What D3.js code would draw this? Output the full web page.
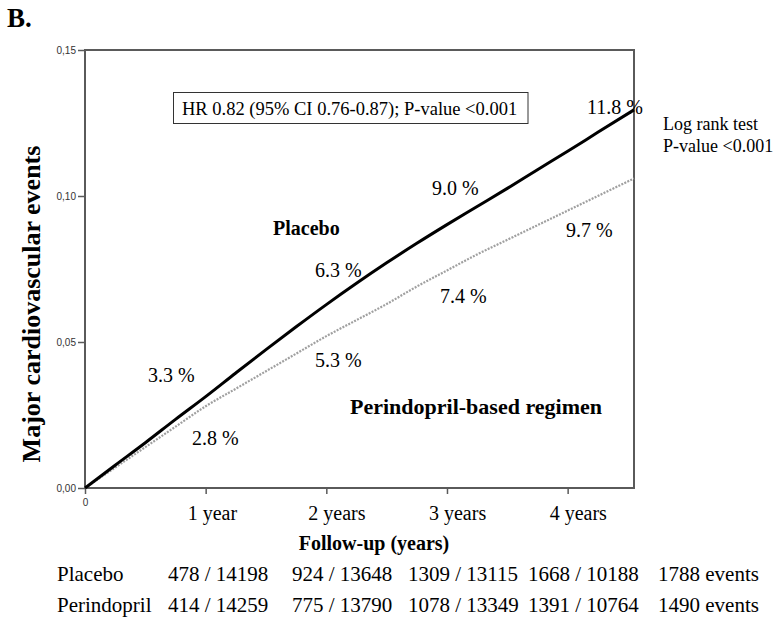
<!DOCTYPE html>
<html>
<head>
<meta charset="utf-8">
<script src="https://cdn.jsdelivr.net/npm/d3@7"></script>
<style>
  html, body { margin: 0; padding: 0; background: #fff; }
  svg { display: block; }
</style>
</head>
<body>
<svg id="chart" width="777" height="632"></svg>
<script>
// Follow-up time points (years) and cumulative event rates
const years       = [0, 0.25, 0.5, 0.75, 1, 1.25, 1.5, 1.75, 2, 2.25, 2.5, 2.75, 3, 3.25, 3.5, 3.75, 4, 4.25, 4.55];
const placebo     = [0, 0.0078, 0.0155, 0.0235, 0.0313, 0.0394, 0.0474, 0.0552, 0.0628, 0.0701, 0.0771, 0.0838, 0.0902, 0.0964, 0.1026, 0.109, 0.1153, 0.1218, 0.1295];
const perindopril = [0, 0.007, 0.014, 0.021, 0.028, 0.034, 0.040, 0.046, 0.052, 0.0575, 0.063, 0.069, 0.0745, 0.080, 0.085, 0.090, 0.095, 0.100, 0.106];

// Axis ticks
const yTicks = [0, 0.05, 0.10, 0.15];
const xTicks = [0, 1, 2, 3, 4];
const yearLabels = ["1 year", "2 years", "3 years", "4 years"];

// Yearly rates printed beside the curves
const placeboPct     = ["3.3 %", "6.3 %", "9.0 %", "11.8 %"];
const perindoprilPct = ["2.8 %", "5.3 %", "7.4 %", "9.7 %"];

// Events / patients at risk table
const tableGroups = ["Placebo", "Perindopril"];
const placeboRow     = ["478 / 14198", "924 / 13648", "1309 / 13115", "1668 / 10188", "1788 events"];
const perindoprilRow = ["414 / 14259", "775 / 13790", "1078 / 13349", "1391 / 10764", "1490 events"];

const svg = d3.select("#chart");
const serif = "'Liberation Serif', 'Times New Roman', serif";
const sans = "'Liberation Sans', Arial, sans-serif";
const frameColor = "#5a5a5a";

const x = d3.scaleLinear().domain([0, 4.55]).range([85, 634]);
const y = d3.scaleLinear().domain([0, 0.15]).range([488, 50]);

// Panel letter
svg.append("text").attr("x", 7).attr("y", 27)
  .attr("font-family", serif).attr("font-weight", "bold").attr("font-size", 27)
  .text("B.");

// Plot frame
svg.append("rect")
  .attr("x", x(0)).attr("y", y(0.15))
  .attr("width", x(4.55) - x(0)).attr("height", y(0) - y(0.15))
  .attr("fill", "none").attr("stroke", frameColor).attr("stroke-width", 2);

// Y axis
const yAxis = svg.append("g").attr("transform", `translate(${x(0)},0)`)
  .call(d3.axisLeft(y).tickValues(yTicks).tickSize(7).tickPadding(2)
    .tickFormat(d => d3.format(".2f")(d).replace(".", ",")));
yAxis.select(".domain").remove();
yAxis.selectAll("line").attr("stroke", frameColor).attr("stroke-width", 1.5);
yAxis.selectAll("text").attr("font-family", sans).attr("font-size", 10).attr("fill", "#333");

// X axis
const xAxis = svg.append("g").attr("transform", `translate(0,${y(0)})`)
  .call(d3.axisBottom(x).tickValues(xTicks).tickSize(6).tickPadding(5)
    .tickFormat(d => d === 0 ? "0" : ""));
xAxis.select(".domain").remove();
xAxis.selectAll("line").attr("stroke", frameColor).attr("stroke-width", 1.5);
xAxis.selectAll("text").attr("font-family", sans).attr("font-size", 10).attr("fill", "#333");

// Year labels under the ticks
svg.append("g").selectAll("text").data(yearLabels).join("text")
  .attr("x", (d, i) => x(xTicks[i + 1]) - 18).attr("y", 520)
  .attr("font-family", serif).attr("font-size", 20)
  .text(d => d);

// Axis titles
svg.append("text")
  .attr("transform", "translate(31,304) rotate(-90)")
  .attr("text-anchor", "middle").attr("dominant-baseline", "central")
  .attr("font-family", serif).attr("font-weight", "bold").attr("font-size", 26)
  .text("Major cardiovascular events");
svg.append("text").attr("x", 374).attr("y", 550)
  .attr("text-anchor", "middle")
  .attr("font-family", serif).attr("font-weight", "bold").attr("font-size", 20)
  .text("Follow-up (years)");

// Curves
const line = d3.line().x(d => x(d[0])).y(d => y(d[1])).curve(d3.curveMonotoneX);
svg.append("path")
  .datum(years.map((t, i) => [t, perindopril[i]]))
  .attr("d", line).attr("fill", "none")
  .attr("stroke", "#a0a0a0").attr("stroke-width", 2.2)
  .attr("stroke-dasharray", "2,1.3");
svg.append("path")
  .datum(years.map((t, i) => [t, placebo[i]]))
  .attr("d", line).attr("fill", "none")
  .attr("stroke", "#000").attr("stroke-width", 3)
  .attr("stroke-linejoin", "round");

// Rate labels
const placeboPos     = [[148, 382], [315, 277], [432, 195], [587, 114]];
const perindoprilPos = [[192, 445], [315, 367], [440, 303], [566, 237]];
svg.append("g").selectAll("text").data(placeboPct).join("text")
  .attr("x", (d, i) => placeboPos[i][0]).attr("y", (d, i) => placeboPos[i][1])
  .attr("font-family", serif).attr("font-size", 20).text(d => d);
svg.append("g").selectAll("text").data(perindoprilPct).join("text")
  .attr("x", (d, i) => perindoprilPos[i][0]).attr("y", (d, i) => perindoprilPos[i][1])
  .attr("font-family", serif).attr("font-size", 20).text(d => d);

// Group names
svg.append("text").attr("x", 273).attr("y", 235)
  .attr("font-family", serif).attr("font-weight", "bold").attr("font-size", 20)
  .text("Placebo");
svg.append("text").attr("x", 350).attr("y", 414)
  .attr("font-family", serif).attr("font-weight", "bold").attr("font-size", 22)
  .text("Perindopril-based regimen");

// Hazard ratio box
svg.append("rect").attr("x", 173.5).attr("y", 92.5).attr("width", 354.5).attr("height", 31)
  .attr("fill", "#fff").attr("stroke", "#333").attr("stroke-width", 1);
svg.append("text").attr("x", 182).attr("y", 115)
  .attr("font-family", serif).attr("font-size", 18.5)
  .text("HR 0.82 (95% CI 0.76-0.87); P-value <0.001");

// Log rank test note
svg.append("text").attr("x", 663).attr("y", 130)
  .attr("font-family", serif).attr("font-size", 18).text("Log rank test");
svg.append("text").attr("x", 663).attr("y", 152)
  .attr("font-family", serif).attr("font-size", 18).text("P-value <0.001");

// Events table
const colX = [168, 292, 408, 528, 658];
const rows = [placeboRow, perindoprilRow];
const rowY = [581, 612];
rows.forEach((row, r) => {
  svg.append("text").attr("x", 57).attr("y", rowY[r])
    .attr("font-family", serif).attr("font-size", 21).text(tableGroups[r]);
  svg.append("g").selectAll("text").data(row).join("text")
    .attr("x", (d, i) => colX[i]).attr("y", rowY[r])
    .attr("font-family", serif).attr("font-size", 21)
    .text(d => d);
});
</script>
</body>
</html>
